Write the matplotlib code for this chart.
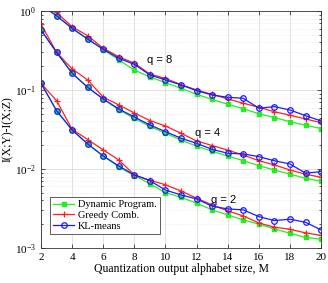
import numpy as np
import matplotlib
matplotlib.use("Agg")
import matplotlib.pyplot as plt
from matplotlib.ticker import LogLocator, NullFormatter

M = list(range(2, 21))

# q = 8
dp_q8 = [1.2, 0.87, 0.604, 0.44, 0.325, 0.24, 0.179, 0.146, 0.124, 0.105, 0.088,
         0.076, 0.066, 0.058, 0.050, 0.0447, 0.0397, 0.0358, 0.0325]
gc_q8 = [1.1, 0.96, 0.633, 0.487, 0.337, 0.264, 0.218, 0.159, 0.140, 0.117, 0.100,
         0.088, 0.077, 0.068, 0.0604, 0.053, 0.048, 0.043, 0.0385]
kl_q8 = [1.2, 0.872, 0.604, 0.442, 0.328, 0.252, 0.211, 0.155, 0.134, 0.116, 0.098,
         0.0864, 0.0809, 0.0785, 0.0587, 0.0615, 0.0558, 0.0473, 0.0405]

# q = 4
dp_q4 = [0.575, 0.30, 0.163, 0.108, 0.0769, 0.056, 0.0437, 0.0345, 0.0283, 0.0233,
         0.0194, 0.0167, 0.0146, 0.0127, 0.011, 0.0097, 0.0086, 0.0076, 0.0070]
gc_q4 = [0.684, 0.30, 0.185, 0.134, 0.081, 0.0646, 0.0512, 0.0409, 0.035, 0.0283,
         0.0226, 0.0198, 0.0173, 0.0150, 0.0127, 0.01124, 0.0097, 0.00857, 0.00785]
kl_q4 = [0.575, 0.30, 0.163, 0.108, 0.0769, 0.0575, 0.0455, 0.036, 0.0297, 0.0245,
         0.0211, 0.0177, 0.0158, 0.0155, 0.0143, 0.0127, 0.01156, 0.00883, 0.00925]

# q = 2
dp_q2 = [0.1216, 0.0547, 0.0312, 0.0207, 0.0146, 0.0106, 0.0082, 0.0065, 0.0050,
         0.00438, 0.00368, 0.00303, 0.00262, 0.00226, 0.0020, 0.00174, 0.00153,
         0.00136, 0.00129]
gc_q2 = [0.1216, 0.0732, 0.0318, 0.0236, 0.0174, 0.013, 0.0084, 0.0072, 0.0063,
         0.00527, 0.00426, 0.0035, 0.00294, 0.00254, 0.00207, 0.00183, 0.00172,
         0.00155, 0.00144]
kl_q2 = [0.1216, 0.0547, 0.0312, 0.0207, 0.0146, 0.0109, 0.0084, 0.0071, 0.0054,
         0.00469, 0.00417, 0.00337, 0.00312, 0.00303, 0.00249, 0.00222, 0.00231,
         0.00211, 0.00169]

labels = ["Dynamic Program.", "Greedy Comb.", "KL-means"]
q_labels = [("q = 8", 8.8, 0.24), ("q = 4", 11.9, 0.0286), ("q = 2", 12.95, 0.0041)]

GREEN = "#22ee22"
RED = "#ff2020"
BLUE = "#1a1aff"

plt.rcParams["font.family"] = ["Liberation Serif", "DejaVu Serif"]
plt.rcParams["mathtext.fontset"] = "stix"

fig = plt.figure(figsize=(3.28, 2.83), dpi=100)
ax = fig.add_axes([0.125, 0.124, 0.854, 0.837])

for dp, gc, kl in [(dp_q8, gc_q8, kl_q8), (dp_q4, gc_q4, kl_q4), (dp_q2, gc_q2, kl_q2)]:
    ax.plot(M, dp, color=GREEN, lw=0.9, marker="s", ms=2.5, mfc=GREEN, mec=GREEN)
    ax.plot(M, gc, color=RED, lw=0.9, marker="+", ms=4.5, mew=0.9)
    ax.plot(M, kl, color=BLUE, lw=0.9, marker="o", ms=4, mfc="none", mew=0.9)

# legend proxies
h1, = ax.plot([], [], color=GREEN, lw=0.9, marker="s", ms=2.5, mfc=GREEN, mec=GREEN)
h2, = ax.plot([], [], color=RED, lw=0.9, marker="+", ms=4.5, mew=0.9)
h3, = ax.plot([], [], color=BLUE, lw=0.9, marker="o", ms=4, mfc="none", mew=0.9)
leg = ax.legend([h1, h2, h3], labels, loc="lower left", bbox_to_anchor=(0.025, 0.05),
                fontsize=7.5, fancybox=False, framealpha=1, edgecolor="#444444",
                handlelength=2.0, handletextpad=0.4, borderpad=0.3, labelspacing=0.15,
                borderaxespad=0.2)
leg.get_frame().set_linewidth(0.6)

for txt, x, y in q_labels:
    ax.text(x, y, txt, fontsize=8, family=["Liberation Sans"], va="center", ha="left")

ax.set_yscale("log")
ax.set_xlim(2, 20)
ax.set_ylim(1e-3, 1)
ax.set_xticks(range(2, 21, 2))
ax.yaxis.set_major_locator(LogLocator(base=10, numticks=10))
ax.yaxis.set_minor_locator(LogLocator(base=10, subs=np.arange(2, 10), numticks=10))
ax.yaxis.set_minor_formatter(NullFormatter())

ax.grid(True, which="major", color="#dddddd", lw=0.6)
ax.grid(True, which="minor", axis="y", color="#e4e4e4", lw=0.5, ls=":")
ax.set_axisbelow(True)

ax.tick_params(which="both", direction="in", top=True, right=True, labelsize=8,
               color="#333333", width=0.6)
ax.tick_params(which="major", length=3)
ax.tick_params(which="minor", length=1.5)
for s in ax.spines.values():
    s.set_linewidth(0.6)
    s.set_color("#333333")

ax.set_xlabel("Quantization output alphabet size, M", fontsize=8.5, labelpad=1)
ax.set_ylabel("I(X;Y)-I(X;Z)", fontsize=8.5, labelpad=1)

fig.savefig("out.png", dpi=100)
